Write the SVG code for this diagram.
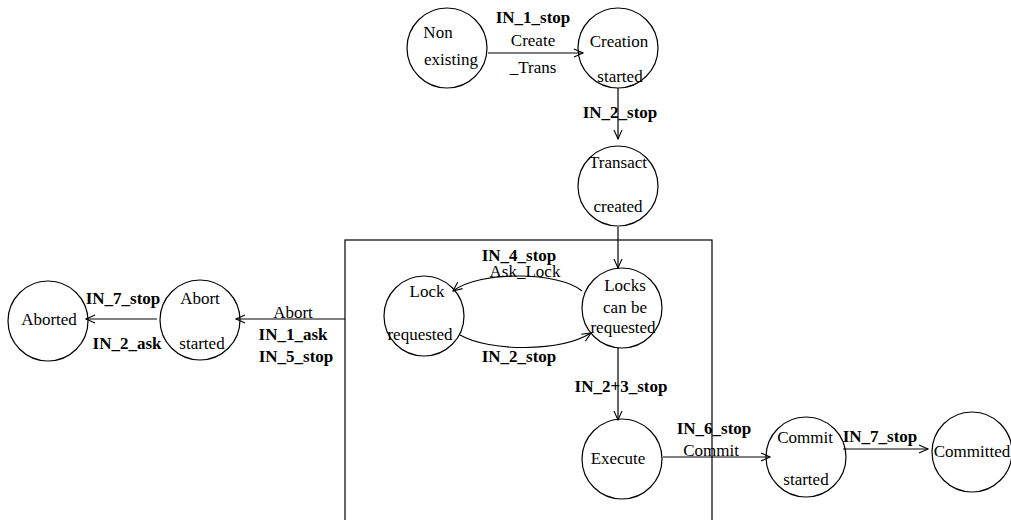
<svg xmlns="http://www.w3.org/2000/svg" width="1011" height="520" viewBox="0 0 1011 520" font-family="'Liberation Serif', 'Times New Roman', Times, serif" font-size="17">
<style>
.n{fill:none;stroke:#000;stroke-width:1.2}
.c{fill:none;stroke:#000;stroke-width:1.2}
.b{font-weight:bold}
.m{text-anchor:middle}
</style>
<defs>
<marker id="ah" markerUnits="userSpaceOnUse" markerWidth="10" markerHeight="10" refX="9" refY="4" orient="auto" overflow="visible">
<path d="M0,0 L9,4 L0,8" fill="none" stroke="#000" stroke-width="1.1"/>
</marker>
</defs>
<rect width="1011" height="520" fill="#fff"/>
<rect id="box" x="345" y="240" width="367" height="300" class="n"/>
<g id="connectors">
<line x1="488" y1="53" x2="583" y2="53" class="c" marker-end="url(#ah)"/>
<line x1="618" y1="88" x2="618" y2="139" class="c" marker-end="url(#ah)"/>
<line x1="618" y1="227" x2="618" y2="268" class="c" marker-end="url(#ah)"/>
<path d="M582,291 C560,272 480,270 453,291" class="c" marker-end="url(#ah)"/>
<path d="M460,335 C490,352 560,352 591,333" class="c" marker-end="url(#ah)"/>
<line x1="618" y1="348" x2="618" y2="420" class="c" marker-end="url(#ah)"/>
<line x1="663" y1="457" x2="770" y2="457" class="c" marker-end="url(#ah)"/>
<line x1="843" y1="449" x2="928" y2="449" class="c" marker-end="url(#ah)"/>
<line x1="345" y1="319" x2="236" y2="319" class="c" marker-end="url(#ah)"/>
<line x1="157" y1="319" x2="86" y2="319" class="c" marker-end="url(#ah)"/>
<text x="533" y="23" class="b m">IN_1_stop</text>
<text x="533" y="46" class="m">Create</text>
<text x="533" y="73" class="m">_Trans</text>
<text x="620" y="118" class="b m">IN_2_stop</text>
<text x="519" y="261" class="b m">IN_4_stop</text>
<text x="525" y="277" class="m">Ask_Lock</text>
<text x="519" y="362" class="b m">IN_2_stop</text>
<text x="621" y="392" class="b m">IN_2+3_stop</text>
<text x="714" y="434" class="b m">IN_6_stop</text>
<text x="711" y="456" class="m">Commit</text>
<text x="880" y="442" class="b m">IN_7_stop</text>
<text x="293" y="318" class="m">Abort</text>
<text x="293" y="340" class="b m">IN_1_ask</text>
<text x="296" y="362" class="b m">IN_5_stop</text>
<text x="123" y="304" class="b m">IN_7_stop</text>
<text x="127" y="349" class="b m">IN_2_ask</text>
</g>
<g id="non_existing">
<circle cx="447" cy="48" r="40" class="n"/>
<text x="438" y="38" class="m">Non</text>
<text x="451" y="65" class="m">existing</text>
</g>
<g id="creation_started">
<circle cx="618" cy="48" r="40" class="n"/>
<text x="619" y="47" class="m">Creation</text>
<text x="620" y="82" class="m">started</text>
</g>
<g id="transact_created">
<circle cx="618" cy="186" r="40" class="n"/>
<text x="618" y="168" class="m">Transact</text>
<text x="618" y="212" class="m">created</text>
</g>
<g id="lock_requested">
<circle cx="424" cy="316" r="40" class="n"/>
<text x="427" y="297" class="m">Lock</text>
<text x="420" y="340" class="m">requested</text>
</g>
<g id="locks_can_be_requested">
<circle cx="622" cy="308" r="40" class="n"/>
<text x="625" y="291" class="m">Locks</text>
<text x="625" y="313" class="m">can be</text>
<text x="623" y="333" class="m">requested</text>
</g>
<g id="execute">
<circle cx="622" cy="459" r="40" class="n"/>
<text x="618" y="464" class="m">Execute</text>
</g>
<g id="commit_started">
<circle cx="806" cy="457" r="40" class="n"/>
<text x="805" y="443" class="m">Commit</text>
<text x="806" y="485" class="m">started</text>
</g>
<g id="committed">
<circle cx="972" cy="452" r="40" class="n"/>
<text x="972" y="457" class="m">Committed</text>
</g>
<g id="abort_started">
<circle cx="200" cy="320" r="40" class="n"/>
<text x="200" y="304" class="m">Abort</text>
<text x="202" y="349" class="m">started</text>
</g>
<g id="aborted">
<circle cx="48" cy="321" r="40" class="n"/>
<text x="49" y="325" class="m">Aborted</text>
</g>
</svg>
